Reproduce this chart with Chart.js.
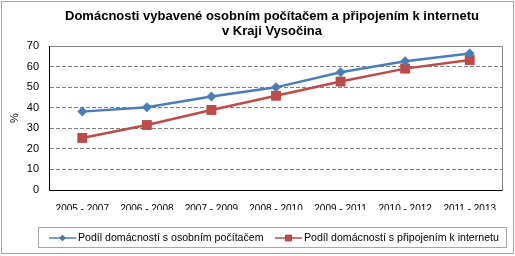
<!DOCTYPE html>
<html>
<head>
<meta charset="utf-8">
<script src="https://cdn.jsdelivr.net/npm/chart.js@4/dist/chart.umd.min.js"></script>
<style>
  html, body { margin: 0; padding: 0; background: #fff; }
  #wrap { width: 515px; height: 256px; }
</style>
</head>
<body>
<div id="wrap"><canvas id="chart" width="515" height="256"></canvas></div>
<script>
// data
const categories = ["2005 - 2007", "2006 - 2008", "2007 - 2009", "2008 - 2010", "2009 - 2011", "2010 - 2012", "2011 - 2013"];
const pcShare = [38.1, 40.2, 45.4, 49.9, 57.2, 62.6, 66.4];
const netShare = [25.3, 31.6, 38.9, 45.8, 52.7, 59.0, 63.2];
const seriesNames = ["Podíl domácností s osobním počítačem", "Podíl domácností s připojením k internetu"];
const titleLines = ["Domácnosti vybavené osobním počítačem a připojením k internetu", "v Kraji Vysočina"];

const FONT = "Arial, 'Liberation Sans', sans-serif";

// frame, title, % label, plot border and legend box
const extras = {
    id: "extras",
    beforeDatasetsDraw(chart) {
        const ctx = chart.ctx;
        const a = chart.chartArea;
        ctx.save();
        ctx.strokeStyle = "#868686";
        ctx.lineWidth = 1;
        ctx.beginPath();
        ctx.moveTo(a.left, a.top + 0.5);
        ctx.lineTo(a.right + 0.5, a.top + 0.5);
        ctx.lineTo(a.right + 0.5, a.bottom);
        ctx.stroke();
        ctx.strokeStyle = "#000";
        ctx.beginPath();
        ctx.moveTo(a.left - 0.5, a.top);
        ctx.lineTo(a.left - 0.5, a.bottom + 0.5);
        ctx.lineTo(a.right + 0.5, a.bottom + 0.5);
        ctx.stroke();
        ctx.restore();
    },
    afterDraw(chart) {
        const ctx = chart.ctx;
        ctx.save();
        // outer frame
        ctx.strokeStyle = "#a6a6a6";
        ctx.lineWidth = 1;
        ctx.strokeRect(1.5, 1.5, 512, 252);

        // title
        ctx.fillStyle = "#000";
        ctx.font = "bold 13px " + FONT;
        ctx.textAlign = "center";
        ctx.textBaseline = "middle";
        ctx.fillText(titleLines[0], 272, 16);
        ctx.fillText(titleLines[1], 272, 31);

        // y axis title
        ctx.save();
        ctx.translate(15, 118);
        ctx.rotate(-Math.PI / 2);
        ctx.font = "11px " + FONT;
        ctx.fillText("%", 0, 0);
        ctx.restore();

        // legend
        ctx.strokeStyle = "#a6a6a6";
        ctx.strokeRect(38.5, 227.5, 468, 20);
        const items = [
            { x: 49, ds: chart.data.datasets[0] },
            { x: 275, ds: chart.data.datasets[1] }
        ];
        const ly = 238;
        ctx.font = "10.6px " + FONT;
        ctx.textAlign = "left";
        ctx.textBaseline = "middle";
        for (let i = 0; i < items.length; i++) {
            const it = items[i];
            ctx.strokeStyle = it.ds.borderColor;
            ctx.lineWidth = 1.5;
            ctx.beginPath();
            ctx.moveTo(it.x, ly);
            ctx.lineTo(it.x + 27, ly);
            ctx.stroke();
            Chart.helpers.drawPoint(ctx, {
                pointStyle: it.ds.pointStyle,
                radius: i === 0 ? 3 : 4.5,
                borderWidth: 0
            }, it.x + 13.5, ly);
            ctx.fillStyle = it.ds.backgroundColor;
            ctx.fill();
            ctx.fillStyle = "#000";
            ctx.fillText(it.ds.label, it.x + 29, ly);
        }
        ctx.restore();
    }
};

new Chart(document.getElementById("chart"), {
    type: "line",
    data: {
        labels: categories,
        datasets: [{
            label: seriesNames[0],
            data: pcShare,
            borderColor: "#4A7EBB",
            backgroundColor: "#4A7EBB",
            borderWidth: 2.5,
            pointStyle: "rectRot",
            pointRadius: 5,
            pointBorderWidth: 0,
            tension: 0
        }, {
            label: seriesNames[1],
            data: netShare,
            borderColor: "#BE4B48",
            backgroundColor: "#BE4B48",
            borderWidth: 2.5,
            pointStyle: "rect",
            pointRadius: 7,
            pointBorderWidth: 0,
            tension: 0
        }]
    },
    options: {
        responsive: false,
        animation: false,
        devicePixelRatio: 1,
        layout: { padding: { left: 0, top: 46, right: 13, bottom: 46 } },
        plugins: {
            legend: { display: false },
            title: { display: false },
            tooltip: { enabled: false }
        },
        scales: {
            x: {
                offset: true,
                afterFit: function(s) { s.height = 20; },
                grid: { display: false, drawTicks: false },
                border: { display: false },
                ticks: {
                    color: "#000",
                    font: { family: FONT, size: 10 },
                    padding: 13,
                    maxRotation: 0,
                    autoSkip: false
                }
            },
            y: {
                min: 0,
                max: 70,
                afterFit: function(s) { s.width = 50; },
                grid: {
                    color: function(c) { return c.tick.value === 0 || c.tick.value === 70 ? "rgba(0,0,0,0)" : "#808080"; },
                    lineWidth: 1,
                    drawTicks: false
                },
                border: { display: false, dash: [4, 2] },
                ticks: {
                    stepSize: 10,
                    color: "#000",
                    font: { family: FONT, size: 11 },
                    padding: 11
                }
            }
        }
    },
    plugins: [extras]
});
</script>
</body>
</html>
